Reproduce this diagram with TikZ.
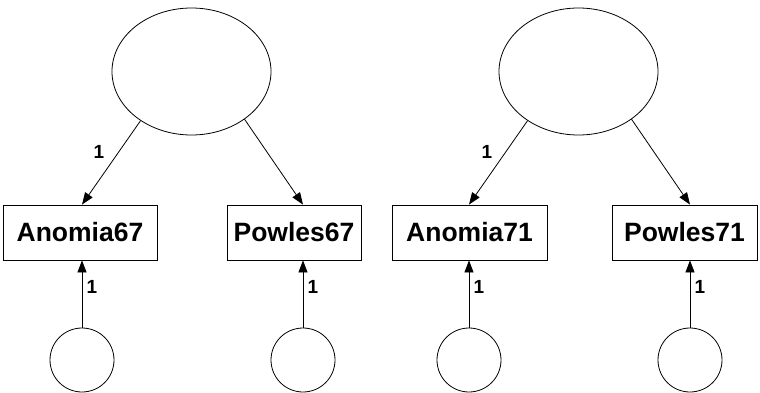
\documentclass[tikz,border=0pt]{standalone}
\usepackage{fontspec}
\setmainfont{Liberation Sans}
\usetikzlibrary{shapes.geometric,arrows.meta}
\begin{document}
\begin{tikzpicture}[x=1pt,y=-1pt,
  every node/.style={inner sep=0pt},
  latent/.style={draw,ellipse,line width=0.8pt,minimum width=159pt,minimum height=127pt},
  obs/.style={draw,rectangle,line width=0.8pt,minimum height=55pt,font=\fontsize{26.5}{26.5}\selectfont\bfseries},
  err/.style={draw,circle,line width=0.8pt,minimum size=64pt},
  path/.style={line width=0.8pt,-{Triangle[length=12pt,width=9pt]}},
  lbl/.style={font=\fontsize{19}{19}\selectfont\bfseries}]
\useasboundingbox (0,0) rectangle (760,393);
\node[latent] (L1) at (191.5,71.5) {};
\node[latent] (L2) at (578.5,71.5) {};
\node[obs,minimum width=154pt] (A67) at (80,232.5) {Anomia67};
\node[obs,minimum width=134pt] (P67) at (294,232.5) {Powles67};
\node[obs,minimum width=155pt] (A71) at (469.5,232.5) {Anomia71};
\node[obs,minimum width=145pt] (P71) at (684.5,232.5) {Powles71};
\node[err] (E1) at (82,360) {};
\node[err] (E2) at (303,360) {};
\node[err] (E3) at (469,360) {};
\node[err] (E4) at (690,360) {};
\draw[path] (L1.224) -- (E1 |- A67.north);
\draw[path] (L1.318) -- (E2 |- P67.north);
\draw[path] (L2.224) -- (E3 |- A71.north);
\draw[path] (L2.318) -- (E4 |- P71.north);
\draw[path] (E1.north) -- (E1 |- A67.south);
\draw[path] (E2.north) -- (E2 |- P67.south);
\draw[path] (E3.north) -- (E3 |- A71.south);
\draw[path] (E4.north) -- (E4 |- P71.south);
\node[lbl] (l1) at (99,152) {1};
\node[lbl] (l2) at (487,152) {1};
\node[lbl] (l3) at (92,287) {1};
\node[lbl] (l4) at (313,287) {1};
\node[lbl] (l5) at (479,287) {1};
\node[lbl] (l6) at (700,287) {1};
\end{tikzpicture}
\end{document}
